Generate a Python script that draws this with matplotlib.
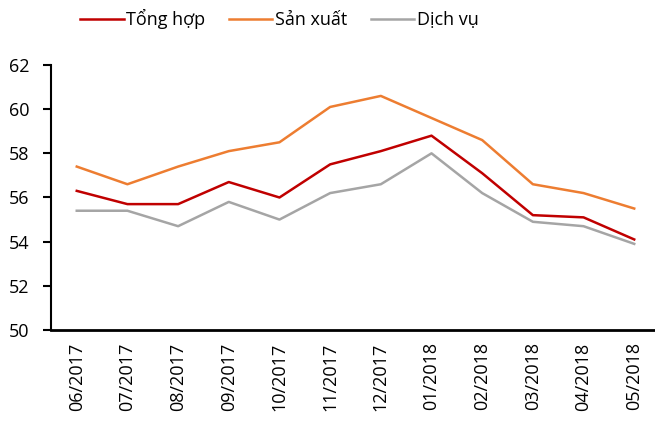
import matplotlib
matplotlib.use("Agg")
import matplotlib.pyplot as plt

months = ["06/2017", "07/2017", "08/2017", "09/2017", "10/2017", "11/2017",
          "12/2017", "01/2018", "02/2018", "03/2018", "04/2018", "05/2018"]
tong_hop = [56.3, 55.7, 55.7, 56.7, 56.0, 57.5, 58.1, 58.8, 57.1, 55.2, 55.1, 54.1]
san_xuat = [57.4, 56.6, 57.4, 58.1, 58.5, 60.1, 60.6, 59.6, 58.6, 56.6, 56.2, 55.5]
dich_vu = [55.4, 55.4, 54.7, 55.8, 55.0, 56.2, 56.6, 58.0, 56.2, 54.9, 54.7, 53.9]

plt.rcParams['font.family'] = ['Open Sans', 'DejaVu Sans']

fig = plt.figure(figsize=(6.55, 4.21), dpi=100)
ax = fig.add_axes([0.0785, 0.2162, 0.9215, 0.6294])

x = range(len(months))
ax.plot(x, tong_hop, color='#C00000', lw=1.8, label='Tổng hợp')
ax.plot(x, san_xuat, color='#ED7D31', lw=1.8, label='Sản xuất')
ax.plot(x, dich_vu, color='#A5A5A5', lw=1.8, label='Dịch vụ')

ax.set_ylim(50, 62)
ax.set_yticks(range(50, 63, 2))
ax.set_xlim(-0.5, 11.41)
ax.set_xticks(list(x))
ax.set_xticklabels(months, rotation=90)
ax.tick_params(axis='x', length=0, pad=9, labelsize=13)
ax.tick_params(axis='y', length=6, width=1.5, labelsize=13, pad=10)

for s in ['top', 'right']:
    ax.spines[s].set_visible(False)
ax.spines['left'].set_linewidth(1.5)
ax.spines['bottom'].set_linewidth(2)

fig.legend(loc='center left', bbox_to_anchor=(0.098, 0.955), ncol=3, frameon=False,
           fontsize=13, handlelength=2.4, handletextpad=0.15, columnspacing=1.3)

fig.savefig('out.png', dpi=100)
